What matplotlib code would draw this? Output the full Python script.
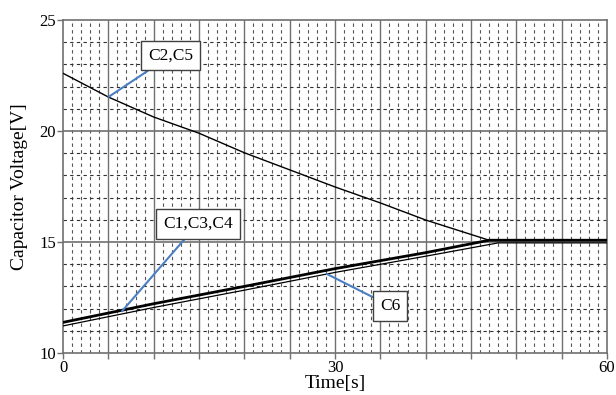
import numpy as np
import matplotlib.pyplot as plt

plt.rcParams['font.family'] = ['Liberation Serif', 'DejaVu Serif']

# discharge of C2,C5 and charging of the others [V]
t_high = [0, 5, 10, 15, 20, 30, 35, 40, 47, 60]
v_c2c5 = [22.6, 21.53, 20.63, 19.9, 19.02, 17.48, 16.76, 15.99, 15.08, 15.08]

t_low = [0, 10, 20, 30, 40, 47, 60]
v_c134 = [11.38, 12.22, 13.0, 13.8, 14.52, 15.08, 15.08]

t_c6 = [0, 10, 20, 30, 40, 48, 60]
v_c6 = [11.22, 12.05, 12.83, 13.63, 14.36, 14.96, 14.96]

fig = plt.figure(figsize=(6.16, 3.95), dpi=100)
ax = fig.add_axes([0.1023, 0.1063, 0.8831, 0.8431])

ax.set_xlim(0, 60)
ax.set_ylim(10, 25)

# grid: solid majors, dashed minors
for x in np.arange(1, 60, 1):
    if x % 5 == 0:
        ax.axvline(x, color='#707070', lw=1.0, zorder=1)
    else:
        ax.axvline(x, color='#555555', lw=0.8, ls=(0, (3, 3)), zorder=1)
for y in np.arange(11, 25, 1):
    if y % 5 == 0:
        ax.axhline(y, color='#707070', lw=1.2, zorder=1)
    else:
        ax.axhline(y, color='#303030', lw=0.8, ls=(0, (3, 3)), zorder=1)

ax.plot(t_high, v_c2c5, color='black', lw=1.0, zorder=3)
ax.plot(t_low, v_c134, color='black', lw=2.0, zorder=3)
ax.plot(t_c6, v_c6, color='black', lw=0.9, zorder=3)

ax.set_xticks(np.arange(0, 61, 5))
ax.set_xticklabels(['0' if v == 0 else str(v) if v % 30 == 0 else '' for v in range(0, 61, 5)])
ax.set_yticks([10, 15, 20, 25])
ax.tick_params(labelsize=12, color='#707070', length=4, width=1, pad=1)
for s in ax.spines.values():
    s.set_color('#707070')
    s.set_linewidth(1.2)

ax.set_xlabel('Time[s]', fontsize=14, labelpad=-1)
ax.set_ylabel('Capacitor Voltage[V]', fontsize=14, labelpad=8)

box = dict(boxstyle='square,pad=0.4', fc='white', ec='#404040', lw=1)
arrow = dict(arrowstyle='-', color='#4a7fc1', lw=1.5, shrinkA=0, shrinkB=0)
ax.annotate('C2,C5', xy=(5, 21.53), xytext=(11.9, 23.4), fontsize=12.5,
            ha='center', va='center', bbox=box, arrowprops=arrow, zorder=5)
ax.annotate('C1,C3,C4', xy=(6.5, 11.88), xytext=(14.9, 15.83), fontsize=12.5,
            ha='center', va='center', bbox=box, arrowprops=arrow, zorder=5)
ax.annotate('C6', xy=(29.1, 13.56), xytext=(36.1, 12.12), fontsize=12.5,
            ha='center', va='center', bbox=box, arrowprops=arrow, zorder=5)

fig.savefig('out.png', dpi=100)
